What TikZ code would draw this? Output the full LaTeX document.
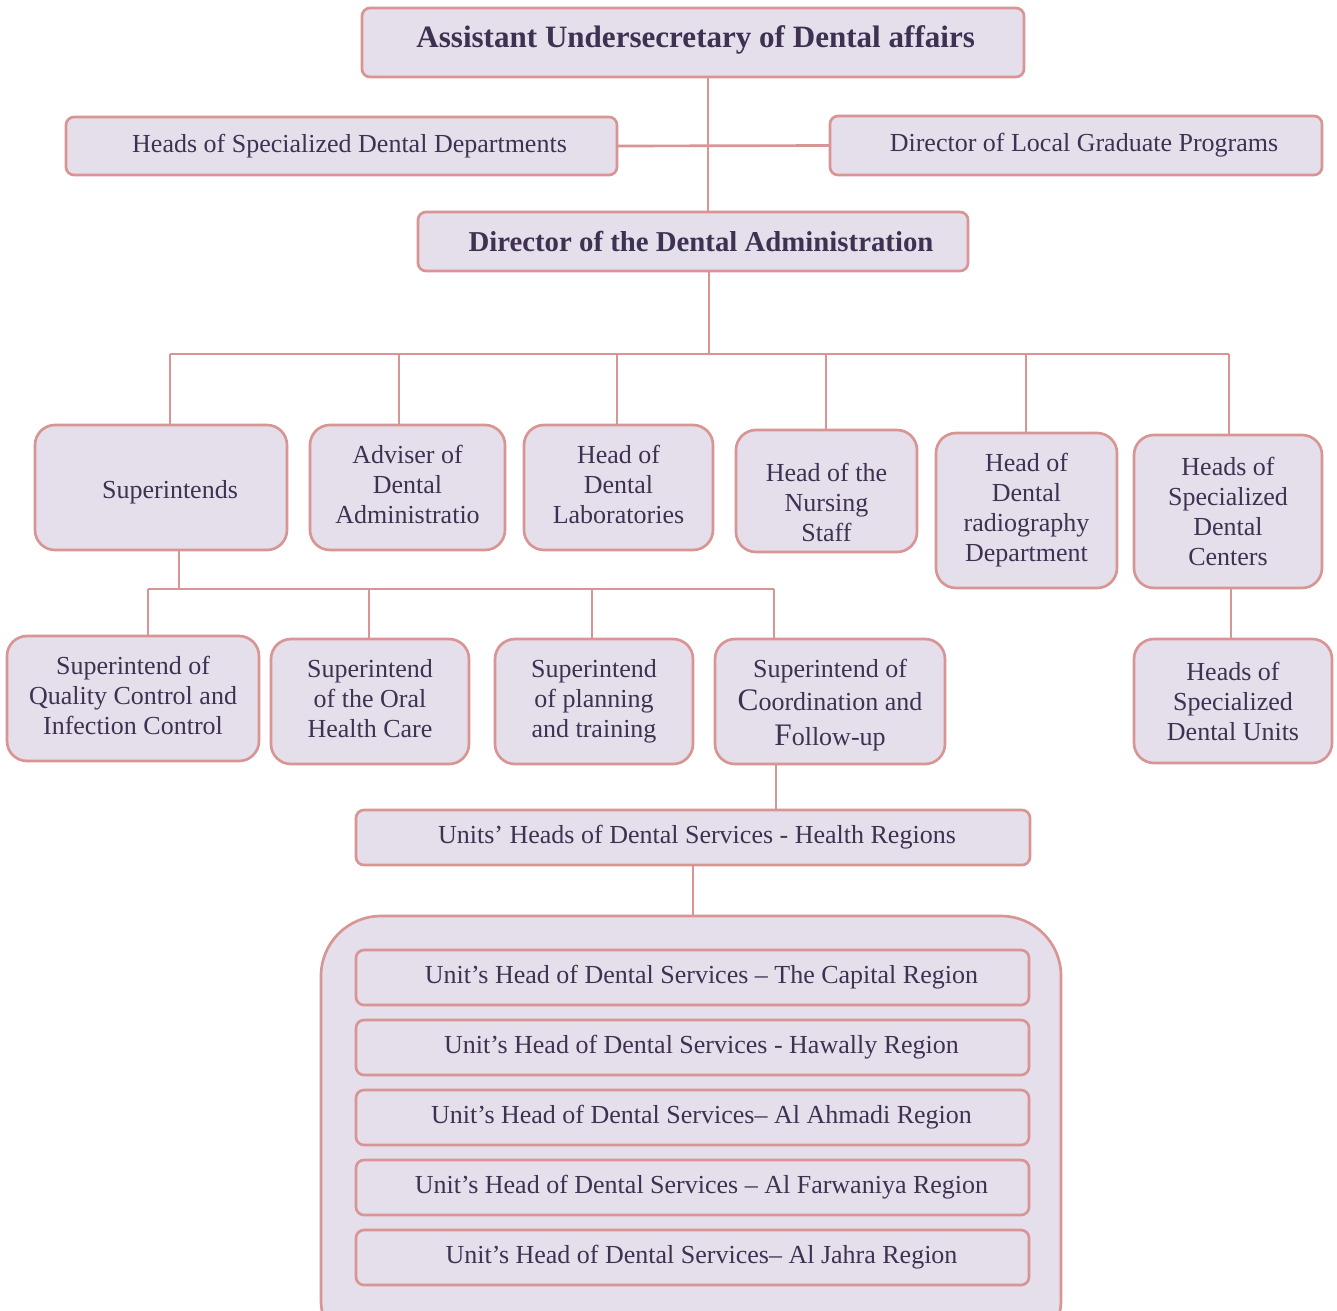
\documentclass[tikz,border=0pt]{standalone}
\usepackage{fontspec}
\setmainfont{Liberation Serif}
\definecolor{boxfill}{HTML}{E5DFEC}
\definecolor{boxline}{HTML}{D99594}
\definecolor{boxtext}{HTML}{3F3151}
\newcommand{\bigC}[1]{{\fontsize{23.5}{26}\selectfont #1}}
% shift content vertically, keeping the box size for centring
\newcommand{\sh}[2]{\raisebox{#1}[\height][\depth]{#2}}
% text block shifted vertically
\newcommand{\tb}[2]{\sh{#1}{\begin{tabular}{@{}c@{}}#2\end{tabular}}}
% \bx[style]{name}{x1}{y1}{x2}{y2}{text}
\newcommand{\bx}[7][box]{%
  \node[#1, minimum width={(#5-#3)*0.75pt}, minimum height={(#6-#4)*0.75pt}]
    (#2) at ({(#3+#5)/2},{(#4+#6)/2}) {#7};}
\begin{document}
\begin{tikzpicture}[x=0.75pt,y=-0.75pt,
  box/.style={draw=boxline, fill=boxfill, line width=2pt, rounded corners=6pt,
    inner sep=0pt, outer sep=0pt, text=boxtext, align=center,
    font=\fontsize{19.5}{22.5}\selectfont},
  rbox/.style={box, rounded corners=15pt},
  bbox/.style={box, font=\fontsize{23.3}{26}\selectfont\bfseries},
  cbox/.style={box, rounded corners=45pt},
  conn/.style={draw=boxline, line width=2pt}]
\clip (0,0) rectangle (1337,1310);
\fill[white] (0,0) rectangle (1337,1310);

% top level
\bx[bbox]{A}{362}{8}{1024}{77}{\hspace*{4pt}\sh{2.25pt}{Assistant Undersecretary of Dental affairs}}
\bx{HSD}{66}{117}{617}{175}{\hspace*{12pt}Heads of Specialized Dental Departments}
\bx{DLG}{830}{116}{1322}{175}{\hspace*{12pt}Director of Local Graduate Programs}
\bx[bbox]{Dir}{418}{212}{968}{271}{\hspace*{12pt}\fontsize{21.6}{26}\selectfont Director of the Dental Administration}

\coordinate (c708) at (708,0);
\draw[conn] (A.south -| c708) -- (Dir.north -| c708);
\draw[conn] (HSD.east) -- (DLG.west);

% second level
\bx[rbox]{Sup}{35}{425}{287}{550}{\hspace*{13.5pt}\sh{-3.75pt}{Superintends}}
\bx[rbox]{Adv}{310}{425}{505}{550}{\tb{0pt}{Adviser of\\Dental\\Administratio}}
\bx[rbox]{Lab}{524}{425}{713}{550}{\tb{0pt}{Head of\\Dental\\Laboratories}}
\bx[rbox]{Nur}{736}{430}{917}{552}{\tb{-10.5pt}{Head of the\\Nursing\\Staff}}
\bx[rbox]{Rad}{936}{433}{1117}{588}{Head of\\Dental\\radiography\\Department}
\bx[rbox]{Cen}{1134}{435}{1322}{588}{Heads of\\Specialized\\Dental\\Centers}
\bx[rbox]{Uni}{1134}{639}{1332}{763}{Heads of\\Specialized\\Dental Units}

\coordinate (b0) at (709,354);
\coordinate (b1) at (170,354);
\coordinate (b2) at (399,354);
\coordinate (b3) at (617,354);
\coordinate (b4) at (826,354);
\coordinate (b5) at (1026,354);
\coordinate (b6) at (1229,354);
\draw[conn] (Dir.south -| b0) -- (b0);
\draw[conn] (b1) -- (b6);
\draw[conn] (b1) -- (Sup.north -| b1);
\draw[conn] (b2) -- (Adv.north -| b2);
\draw[conn] (b3) -- (Lab.north -| b3);
\draw[conn] (b4) -- (Nur.north -| b4);
\draw[conn] (b5) -- (Rad.north -| b5);
\draw[conn] (b6) -- (Cen.north -| b6);
\coordinate (cu) at (1231,0);
\draw[conn] (Cen.south -| cu) -- (Uni.north -| cu);

% third level
\bx[rbox]{QC}{7}{636}{259}{761}{\tb{0pt}{Superintend of\\Quality Control and\\Infection Control}}
\bx[rbox]{Oral}{271}{639}{469}{764}{\tb{0pt}{Superintend\\of the Oral\\Health Care}}
\bx[rbox]{Pla}{495}{639}{693}{764}{Superintend\\of planning\\and training}
\bx[rbox]{Coo}{715}{639}{945}{764}{\sh{-3pt}{\begin{tabular}{@{}c@{}}Superintend of\\[2pt]\bigC{C}oordination and\\[4pt]\bigC{F}ollow-up\end{tabular}}}

\coordinate (s0) at (179,589);
\coordinate (s1) at (148,589);
\coordinate (s2) at (369,589);
\coordinate (s3) at (592,589);
\coordinate (s4) at (774,589);
\draw[conn] (Sup.south -| s0) -- (s0);
\draw[conn] (s1) -- (s4);
\draw[conn] (s1) -- (QC.north -| s1);
\draw[conn] (s2) -- (Oral.north -| s2);
\draw[conn] (s3) -- (Pla.north -| s3);
\draw[conn] (s4) -- (Coo.north -| s4);

% units
\bx{UH}{356}{810}{1030}{865}{\hspace*{6pt}Units’ Heads of Dental Services - Health Regions}
\coordinate (c776) at (776,0);
\draw[conn] (Coo.south -| c776) -- (UH.north -| c776);

\bx[cbox]{Cont}{321}{916}{1061}{1360}{}
\coordinate (c693) at (693,0);
\draw[conn] (UH.south -| c693) -- (Cont.north -| c693);

\bx{R1}{356}{950}{1029}{1005}{\hspace*{13.5pt}Unit’s Head of Dental Services – The Capital Region}
\bx{R2}{356}{1020}{1029}{1075}{\hspace*{13.5pt}Unit’s Head of Dental Services - Hawally Region}
\bx{R3}{356}{1090}{1029}{1145}{\hspace*{13.5pt}Unit’s Head of Dental Services– Al Ahmadi Region}
\bx{R4}{356}{1160}{1029}{1215}{\hspace*{13.5pt}Unit’s Head of Dental Services – Al Farwaniya Region}
\bx{R5}{356}{1230}{1029}{1285}{\hspace*{13.5pt}Unit’s Head of Dental Services– Al Jahra Region}
\end{tikzpicture}
\end{document}
